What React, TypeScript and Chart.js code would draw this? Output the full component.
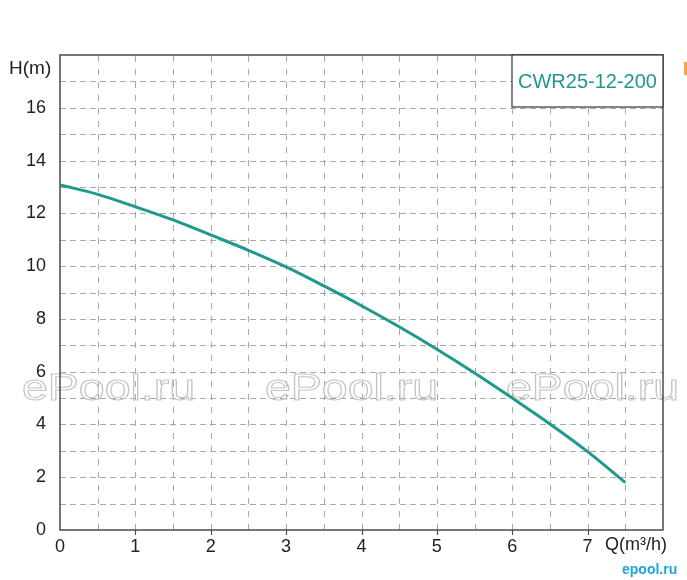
import React, { useEffect, useRef } from 'react';
import { Chart, registerables } from 'chart.js';

Chart.register(...registerables);

const FLOW = [0, 0.5, 1, 1.5, 2, 2.5, 3, 3.5, 4, 4.5, 5, 5.5, 6, 6.5, 7, 7.5];
const HEAD = [13.08, 12.72, 12.25, 11.75, 11.18, 10.6, 9.97, 9.25, 8.5, 7.7, 6.85, 5.95, 5.0, 4.02, 2.97, 1.8];
const X_TICK_LABELS = [0, 1, 2, 3, 4, 5, 6, 7];
const Y_TICK_LABELS = [0, 2, 4, 6, 8, 10, 12, 14, 16];
const MODEL = 'CWR25-12-200';
const WATERMARK = 'ePool.ru';
const LOGO = 'epool.ru';
const X_TITLE = 'Q(m³/h)';
const Y_TITLE = 'H(m)';

const FONT = '"Liberation Sans", Arial, sans-serif';
const TEAL = '#1f988e';

const decorPlugin = {
  id: 'decor',
  beforeDatasetsDraw(chart: any) {
    const { ctx, chartArea: a, scales } = chart;
    const xs = scales.x;
    const ys = scales.y;
    ctx.save();
    ctx.strokeStyle = '#a8a8a8';
    ctx.lineWidth = 1;
    ctx.setLineDash([6, 4]);
    for (let v = 1; v < 18; v += 1) {
      const y = Math.round(ys.getPixelForValue(v)) + 0.5;
      ctx.beginPath();
      ctx.moveTo(a.left, y);
      ctx.lineTo(a.right, y);
      ctx.stroke();
    }
    ctx.setLineDash([6, 7]);
    for (let v = 0.5; v < 8; v += 0.5) {
      const x = Math.round(xs.getPixelForValue(v)) + 0.5;
      ctx.beginPath();
      ctx.moveTo(x, a.bottom);
      ctx.lineTo(x, a.top);
      ctx.stroke();
    }
    ctx.setLineDash([]);
    ctx.strokeStyle = '#c4c4c4';
    ctx.lineWidth = 1;
    ctx.font = `36px ${FONT}`;
    ctx.textBaseline = 'alphabetic';
    ctx.textAlign = 'left';
    [22, 265, 506].forEach((wx) => {
      ctx.save();
      ctx.translate(wx, 400);
      ctx.scale(1.29, 1);
      ctx.strokeText(WATERMARK, 0, 0);
      ctx.restore();
    });
    ctx.strokeStyle = '#4a4a4a';
    ctx.lineWidth = 1.5;
    ctx.strokeRect(a.left, a.top, a.right - a.left, a.bottom - a.top);
    ctx.lineWidth = 1.2;
    X_TICK_LABELS.forEach((v) => {
      if (v === 0) return;
      const x = Math.round(xs.getPixelForValue(v)) + 0.5;
      ctx.beginPath();
      ctx.moveTo(x, a.bottom);
      ctx.lineTo(x, a.bottom + 5);
      ctx.stroke();
    });
    ctx.restore();
  },
  afterDatasetsDraw(chart: any) {
    const { ctx, chartArea: a } = chart;
    ctx.save();
    const bw = 151;
    const bh = 52;
    const bx = a.right - bw;
    const by = a.top;
    ctx.fillStyle = '#ffffff';
    ctx.fillRect(bx, by, bw, bh);
    ctx.strokeStyle = '#333333';
    ctx.lineWidth = 1.2;
    ctx.strokeRect(bx, by, bw, bh);
    ctx.fillStyle = TEAL;
    ctx.font = `20px ${FONT}`;
    ctx.textAlign = 'center';
    ctx.textBaseline = 'middle';
    ctx.fillText(MODEL, bx + bw / 2, by + bh / 2 + 1);
    ctx.fillStyle = '#222222';
    ctx.font = `19px ${FONT}`;
    ctx.textAlign = 'left';
    ctx.fillText(Y_TITLE, 9, 69);
    ctx.font = `18px ${FONT}`;
    ctx.fillText(X_TITLE, 605, 545);
    ctx.fillStyle = '#1aa6df';
    ctx.font = `bold 14px ${FONT}`;
    ctx.fillText(LOGO, 622, 570);
    ctx.fillStyle = '#f0a848';
    ctx.fillRect(684, 62, 3, 13);
    ctx.restore();
  },
};

export default function App() {
  const ref = useRef<HTMLCanvasElement | null>(null);
  useEffect(() => {
    if (!ref.current) return;
    const chart = new Chart(ref.current, {
      type: 'line',
      data: {
        datasets: [
          {
            data: FLOW.map((q, i) => ({ x: q, y: HEAD[i] })),
            borderColor: TEAL,
            borderWidth: 3,
            pointRadius: 0,
            fill: false,
            cubicInterpolationMode: 'monotone',
          },
        ],
      },
      options: {
        animation: false,
        responsive: false,
        maintainAspectRatio: false,
        layout: { padding: { top: 55, right: 24, left: 0, bottom: 0 } },
        plugins: { legend: { display: false }, tooltip: { enabled: false } },
        scales: {
          x: {
            type: 'linear',
            min: 0,
            max: 8,
            grid: { display: false },
            border: { display: false },
            ticks: {
              stepSize: 1,
              padding: -2,
              color: '#222222',
              font: { family: FONT, size: 18 },
              callback: (v: any) => (X_TICK_LABELS.includes(Number(v)) ? String(v) : ''),
              autoSkip: false,
              maxRotation: 0,
            },
            afterFit: (s: any) => {
              s.height = 50;
            },
          },
          y: {
            type: 'linear',
            min: 0,
            max: 18,
            grid: { display: false },
            border: { display: false },
            ticks: {
              stepSize: 2,
              padding: 6,
              color: '#222222',
              font: { family: FONT, size: 18 },
              callback: (v: any) => (Y_TICK_LABELS.includes(Number(v)) ? String(v) : ''),
              autoSkip: false,
            },
            afterFit: (s: any) => {
              s.width = 60;
            },
          },
        },
      },
      plugins: [decorPlugin],
    } as any);
    return () => chart.destroy();
  }, []);
  return (
    <div style={{ position: 'fixed', left: 0, top: 0, width: 687, height: 580, background: '#fff' }}>
      <canvas ref={ref} width={687} height={580} />
    </div>
  );
}
